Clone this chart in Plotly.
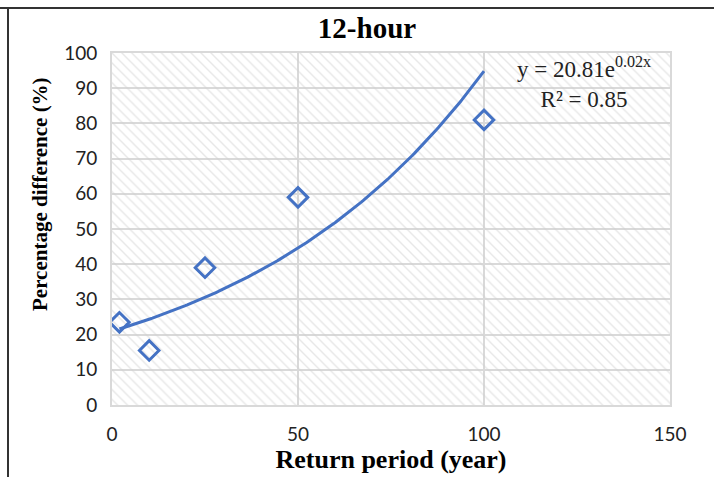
import numpy as np
import plotly.graph_objects as go

# Return periods (years) and percentage differences (%)
return_period = [2, 10, 25, 50, 100]
pct_diff = [23.5, 15.5, 39, 59, 81]

x_ticks = [0, 50, 100, 150]
y_ticks = [0, 10, 20, 30, 40, 50, 60, 70, 80, 90, 100]

# Exponential trendline y = a * exp(b x), fitted in log space
b, ln_a = np.polyfit(return_period, np.log(pct_diff), 1)
a = np.exp(ln_a)
x_fit = np.linspace(min(return_period), max(return_period), 200)
y_fit = a * np.exp(b * x_fit)

BLUE = "#4472C4"
GRID = "#d9d9d9"
SERIF = "Liberation Serif"
SANS = "Lato"

fig = go.Figure()

# Hatched plot-area background (transparent between hatch lines so the grid shows)
fig.add_trace(go.Scatter(
    x=[0, 150, 150, 0, 0], y=[0, 0, 100, 100, 0],
    fill="toself", mode="none",
    fillcolor="rgba(0,0,0,0)",
    fillpattern=dict(shape="\\", fgcolor="#cfcfcf", bgcolor="rgba(0,0,0,0)",
                     size=7, solidity=0.2),
    hoverinfo="skip", showlegend=False,
))

fig.add_trace(go.Scatter(
    x=x_fit, y=y_fit, mode="lines",
    line=dict(color=BLUE, width=3),
    showlegend=False,
))

fig.add_trace(go.Scatter(
    x=return_period, y=pct_diff, mode="markers",
    marker=dict(symbol="diamond-open", size=15, color=BLUE,
                line=dict(color=BLUE, width=3)),
    showlegend=False,
))

# Trendline equation
fig.add_annotation(
    x=126.9, y=91.5, xref="x", yref="y",
    text="y = 20.81e<sup>0.02x</sup><br>R² = 0.85",
    showarrow=False, align="center",
    font=dict(family=SERIF, size=23, color="#222"),
)

# Y-axis title, set a little above the plot's vertical centre
fig.add_annotation(
    x=-72 / 558, y=(405 - 194) / 352, xref="paper", yref="paper",
    text="<b>Percentage difference (%)</b>", textangle=-90,
    showarrow=False, xanchor="center", yanchor="middle",
    font=dict(family=SERIF, size=21, color="black"),
)

fig.update_layout(
    width=714, height=477,
    margin=dict(l=112, r=44, t=53, b=72),
    paper_bgcolor="white", plot_bgcolor="white",
    title=dict(text="<b>12-hour</b>", x=0.514, xref="container", xanchor="center",
               y=1 - 28 / 477, yref="container", yanchor="middle",
               font=dict(family=SERIF, size=29, color="black")),
    shapes=[
        dict(type="line", xref="paper", yref="paper", x0=-112 / 558, x1=1.2,
             y0=1 + 45 / 352, y1=1 + 45 / 352, line=dict(color="#333", width=2)),
        dict(type="line", xref="paper", yref="paper", x0=-104 / 558, x1=-104 / 558,
             y0=-0.3, y1=1 + 45 / 352, line=dict(color="#333", width=2)),
    ],
)

fig.update_xaxes(
    range=[0, 150], tickvals=x_ticks, showgrid=True, gridcolor=GRID, gridwidth=2,
    zeroline=False, showline=True, linecolor=GRID, mirror=True, linewidth=2,
    ticks="outside", ticklen=11, tickcolor="rgba(0,0,0,0)",
    tickfont=dict(family=SANS, size=19, color="#222"),
    title=dict(text="<b>Return period (year)</b>", standoff=2,
               font=dict(family=SERIF, size=26, color="black")),
)
fig.update_yaxes(
    range=[0, 100], tickvals=y_ticks, showgrid=True, gridcolor=GRID, gridwidth=2,
    zeroline=False, showline=True, linecolor=GRID, mirror=True, linewidth=2,
    ticks="outside", ticklen=9, tickcolor="rgba(0,0,0,0)",
    tickfont=dict(family=SANS, size=19, color="#222"),
)

fig.write_html("out.html")
